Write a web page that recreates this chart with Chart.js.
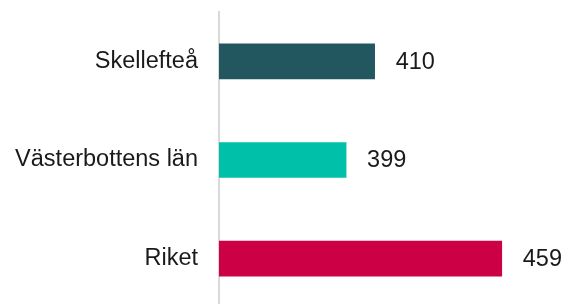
<!DOCTYPE html>
<html lang="sv">
<head>
  <meta charset="UTF-8" />
  <script src="https://cdn.jsdelivr.net/npm/chart.js"></script>
  <title>Skellefteå</title>
  <style>
    html, body { margin: 0; padding: 0; background: #fff; overflow: hidden; }
    canvas { display: block; }
  </style>
</head>
<body>
  <canvas id="diagram" width="564" height="308"></canvas>

  <script>
    const kategorier = ['Skellefteå', 'Västerbottens län', 'Riket']
    const varden = [410, 399, 459]
    const farger = ['#22575F', '#00C0AA', '#CC0044']

    const typsnitt = { family: '"Liberation Sans", Arial, sans-serif', size: 23.5 }

    // skriver värdet till höger om varje stapel
    const vardeEtiketter = {
      id: 'vardeEtiketter',
      afterDatasetsDraw(chart) {
        const ctx = chart.ctx
        const meta = chart.getDatasetMeta(0)
        ctx.save()
        ctx.font = `${typsnitt.size}px ${typsnitt.family}`
        ctx.fillStyle = '#1a1a1a'
        ctx.textAlign = 'left'
        ctx.textBaseline = 'middle'
        meta.data.forEach((bar, i) => {
          ctx.fillText(String(varden[i]), bar.x + 21, bar.y + 1)
        })
        ctx.restore()
      }
    }

    new Chart(document.getElementById('diagram'), {
      type: 'bar',
      data: {
        labels: kategorier,
        datasets: [{
          data: varden,
          backgroundColor: farger,
          barThickness: 35
        }]
      },
      options: {
        indexAxis: 'y',
        responsive: false,
        animation: false,
        layout: { padding: { top: 12, left: 12, right: 0, bottom: 0 } },
        plugins: { legend: { display: false }, tooltip: { enabled: false } },
        scales: {
          x: { display: false, min: 350, max: 483 },
          y: {
            grid: { display: false, drawTicks: false },
            border: { display: true, color: '#d9d9d9', width: 2 },
            ticks: { color: '#1a1a1a', font: typsnitt, padding: 21 },
            afterFit(scale) {
              scale.width = 207
              scale.paddingTop = 0
              scale.paddingBottom = 0
            }
          }
        }
      },
      plugins: [vardeEtiketter]
    })
  </script>
</body>
</html>
